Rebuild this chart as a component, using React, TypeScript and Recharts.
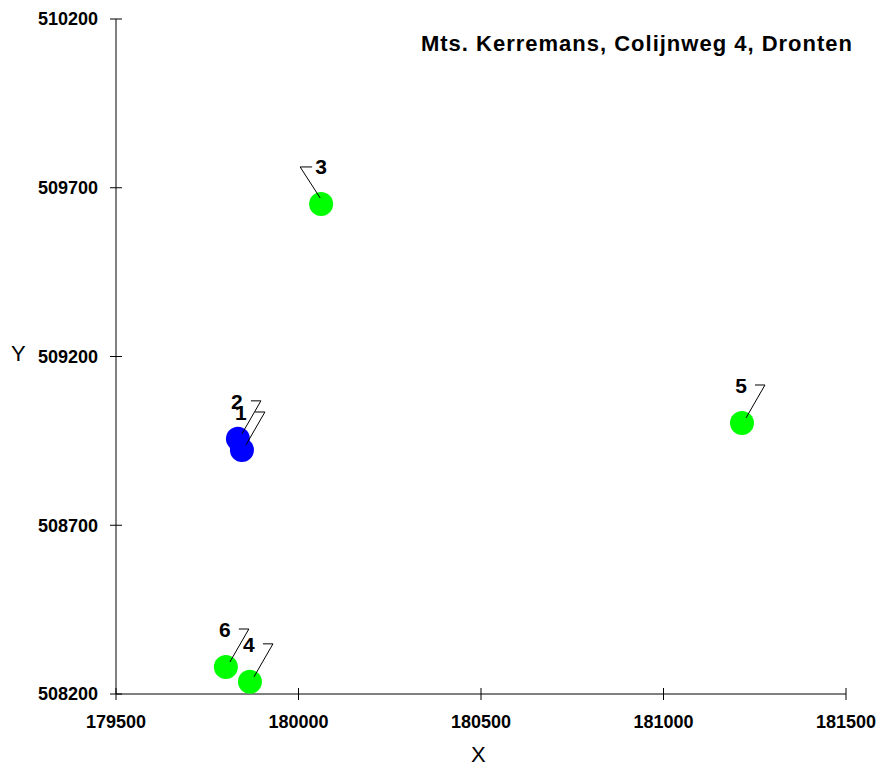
import React from 'react';
import { ScatterChart, Scatter, XAxis, YAxis, LabelList } from 'recharts';

// survey points (Rijksdriehoek coordinates)
const pointIds = ['1', '2', '3', '4', '5', '6'];
const xValues = [179845, 179834, 180062, 179867, 181215, 179801];
const yValues = [508923, 508956, 509652, 508236, 509003, 508280];
const pointGroup = ['blue', 'blue', 'green', 'green', 'green', 'green'];

const xTicks = [179500, 180000, 180500, 181000, 181500];
const yTicks = [508200, 508700, 509200, 509700, 510200];

const title = 'Mts. Kerremans, Colijnweg 4, Dronten';
const leftLabels = ['3'];

const W = 879;
const H = 769;
const FONT = 'Arial, "Liberation Sans", sans-serif';

const points = pointIds.map((id, i) => ({
  id,
  x: xValues[i],
  y: yValues[i],
  group: pointGroup[i],
}));
const bluePts = points.filter((p) => p.group === 'blue');
const greenPts = points.filter((p) => p.group === 'green');

const dot = (fill: string) => (props: any) => {
  const { cx, cy } = props;
  if (cx == null || cy == null) return <g />;
  return <circle cx={cx} cy={cy} r={12} fill={fill} />;
};

const PointLabel = (props: any) => {
  const { x, y, width, height, value } = props;
  const cx = x + width / 2;
  const cy = y + height / 2;
  const left = leftLabels.includes(String(value));
  const path = left
    ? `M${cx - 1},${cy - 6} L${cx - 21},${cy - 37} L${cx - 9},${cy - 37}`
    : `M${cx + 4},${cy - 5} L${cx + 23},${cy - 38} L${cx + 13},${cy - 38}`;
  return (
    <g>
      <path d={path} stroke="#000" strokeWidth={1} fill="none" />
      <text
        x={left ? cx : cx - 1}
        y={cy - 30}
        textAnchor="middle"
        fontFamily={FONT}
        fontSize={21}
        fontWeight="bold"
        fill="#000"
      >
        {value}
      </text>
    </g>
  );
};

const YTick = (props: any) => {
  const { x, y, payload } = props;
  const ax = x + 18;
  return (
    <g>
      <line x1={ax - 6} x2={ax + 6} y1={y} y2={y} stroke="#000" />
      <text
        x={x}
        y={y}
        dy="0.35em"
        textAnchor="end"
        fontFamily={FONT}
        fontSize={18}
        fontWeight="bold"
        fill="#000"
      >
        {payload.value}
      </text>
    </g>
  );
};

const XTick = (props: any) => {
  const { x, y, payload } = props;
  const ay = y - 21;
  return (
    <g>
      <line x1={x} x2={x} y1={ay - 6} y2={ay + 6} stroke="#000" />
      <text
        x={x}
        y={y}
        dy="0.71em"
        textAnchor="middle"
        fontFamily={FONT}
        fontSize={18}
        fontWeight="bold"
        fill="#000"
      >
        {payload.value}
      </text>
    </g>
  );
};

export default function App() {
  return (
    <div style={{ position: 'absolute', left: 0, top: 0, width: W, height: H, background: '#fff' }}>
      <ScatterChart width={W} height={H} margin={{ top: 19, right: 33, left: 26, bottom: 35 }}>
        <XAxis
          type="number"
          dataKey="x"
          domain={[179500, 181500]}
          ticks={xTicks}
          allowDataOverflow
          height={40}
          stroke="#000"
          tickLine={false}
          tickSize={0}
          tickMargin={21}
          tick={<XTick />}
        />
        <YAxis
          type="number"
          dataKey="y"
          domain={[508200, 510200]}
          ticks={yTicks}
          allowDataOverflow
          width={90}
          stroke="#000"
          tickLine={false}
          tickSize={0}
          tickMargin={18}
          tick={<YTick />}
        />
        <Scatter data={bluePts} shape={dot('#0000ff')} isAnimationActive={false}>
          <LabelList dataKey="id" content={<PointLabel />} />
        </Scatter>
        <Scatter data={greenPts} shape={dot('#00ff00')} isAnimationActive={false}>
          <LabelList dataKey="id" content={<PointLabel />} />
        </Scatter>
      </ScatterChart>
      <div
        style={{
          position: 'absolute',
          right: 26,
          top: 31,
          fontFamily: FONT,
          fontSize: 22,
          fontWeight: 'bold',
          letterSpacing: 1,
          color: '#000',
          whiteSpace: 'nowrap',
        }}
      >
        {title}
      </div>
      <div style={{ position: 'absolute', left: 11, top: 341, fontFamily: FONT, fontSize: 22, color: '#000' }}>
        Y
      </div>
      <div style={{ position: 'absolute', left: 471, top: 742, fontFamily: FONT, fontSize: 22, color: '#000' }}>
        X
      </div>
    </div>
  );
}
